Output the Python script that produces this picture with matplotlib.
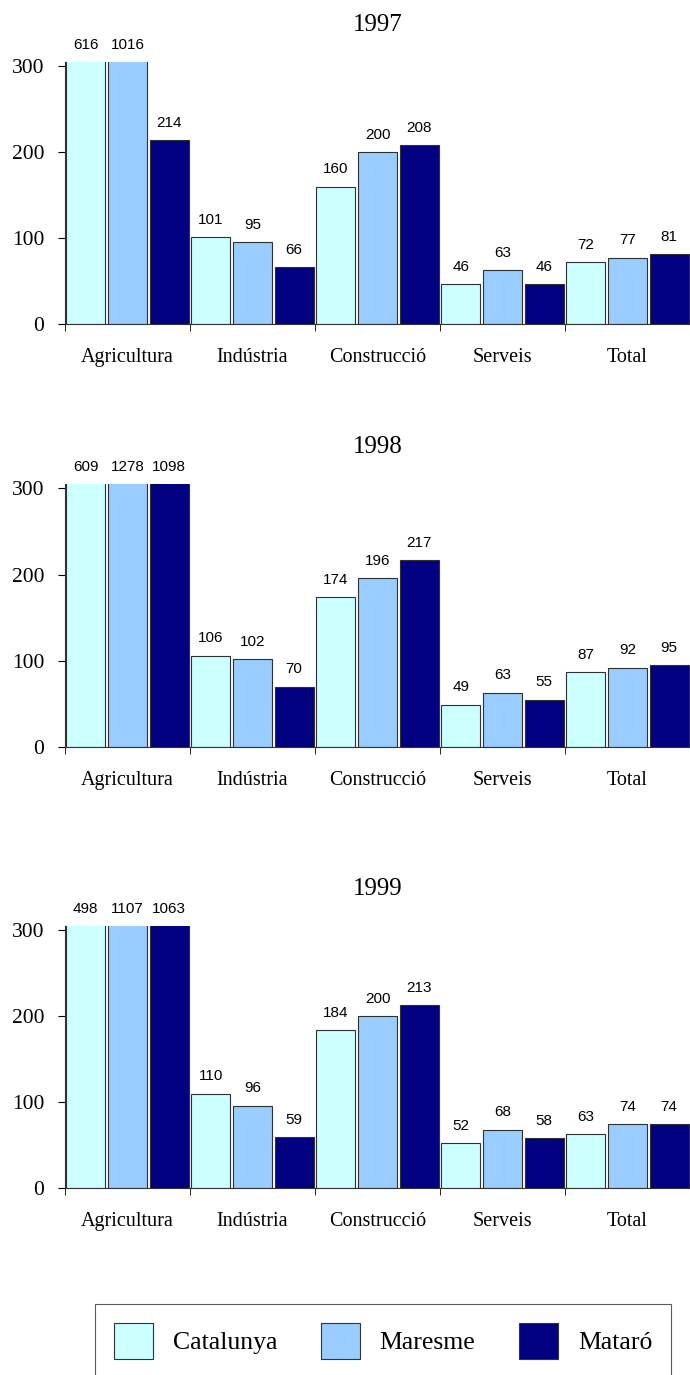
import matplotlib
matplotlib.use('Agg')
import matplotlib.pyplot as plt
import numpy as np
from matplotlib.patches import Patch

# Datos (índices per sector)
sectors = ["Agricultura", "Indústria", "Construcció", "Serveis", "Total"]
series = ["Catalunya", "Maresme", "Mataró"]
colors = ["#CCFFFF", "#99CCFF", "#000080"]

years = ["1997", "1998", "1999"]
catalunya = {"1997": [616, 101, 160, 46, 72],
             "1998": [609, 106, 174, 49, 87],
             "1999": [498, 110, 184, 52, 63]}
maresme = {"1997": [1016, 95, 200, 63, 77],
           "1998": [1278, 102, 196, 63, 92],
           "1999": [1107, 96, 200, 68, 74]}
mataro = {"1997": [214, 66, 208, 46, 81],
          "1998": [1098, 70, 217, 55, 95],
          "1999": [1063, 59, 213, 58, 74]}

W, H = 690, 1375
ymax = 305
# posicions dels eixos (px): (y del 0, y de la part superior)
axes_px = [(324, 62), (747, 484), (1188, 926)]
left_px, right_px = 65, 690

fig = plt.figure(figsize=(W / 100, H / 100), dpi=100)
serif = "Liberation Serif"
sans = "Liberation Sans"

x = np.arange(len(sectors))
step = 1 / 3
bw = 0.31

for yr, (y0, y1) in zip(years, axes_px):
    ax = fig.add_axes([left_px / W, 1 - y0 / H, (right_px - left_px) / W, (y0 - y1) / H])
    vals = [catalunya[yr], maresme[yr], mataro[yr]]
    for i, (name, v, c) in enumerate(zip(series, vals, colors)):
        pos = x - step + i * step
        ax.bar(pos, v, width=bw, color=c, edgecolor="#303030", linewidth=0.8)
        for p, val in zip(pos, v):
            ax.annotate(str(val), (p, min(val, ymax)), xytext=(0, 12.5),
                        textcoords="offset points", ha="center", va="center",
                        fontsize=11, family=sans, annotation_clip=False)
    ax.set_xlim(-0.5, 4.5)
    ax.set_ylim(0, ymax)
    ax.set_yticks([0, 100, 200, 300])
    ax.set_yticklabels(["0", "100", "200", "300"], family=serif, fontsize=15.5)
    ax.set_xticks(x)
    ax.set_xticklabels(sectors, family=serif, fontsize=14.5)
    ax.set_xticks(np.arange(-0.5, 4.0, 1.0), minor=True)
    ax.tick_params(axis="x", which="major", length=0, pad=17)
    ax.tick_params(axis="x", which="minor", length=5, direction="out")
    ax.tick_params(axis="y", length=5, direction="out", pad=10)
    for s in ["top", "right"]:
        ax.spines[s].set_visible(False)
    ax.spines["left"].set_color("#333333")
    ax.spines["bottom"].set_color("#333333")
    ax.set_title(yr, family=serif, fontsize=18, pad=22)

handles = [Patch(facecolor=c, edgecolor="#333333", linewidth=0.8) for c in colors]
leg = fig.legend(handles, series, loc="upper left",
                 bbox_to_anchor=(95 / W, 1 - 1304 / H - 0.01, 576 / W, 0.01),
                 mode="expand", ncol=3, frameon=True, fancybox=False,
                 edgecolor="#333333", prop={"family": serif, "size": 18.5},
                 handlelength=1.52, handleheight=1.8, handletextpad=0.78,
                 columnspacing=1.5, borderpad=0.72, borderaxespad=0)
leg.get_frame().set_linewidth(0.8)

plt.savefig("out.png", dpi=100)
plt.close()
